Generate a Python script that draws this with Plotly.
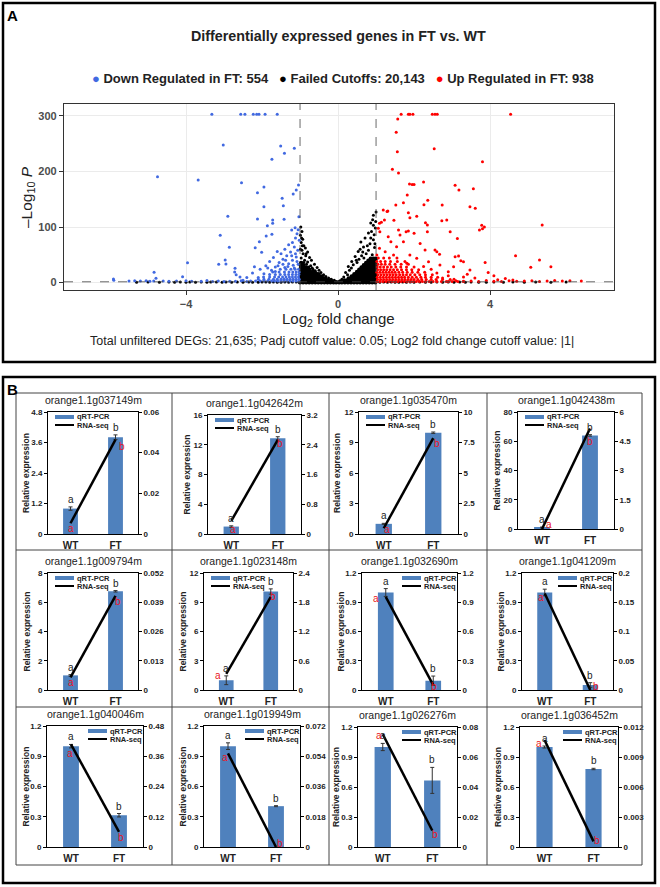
import plotly.graph_objects as go

W, H = 660, 887
FONT = "Arial, Liberation Sans, sans-serif"

# ======================= Panel A : volcano data =======================
# (log2 fold change, -log10 P) pairs
down_pts = [
    (-4.75, 190.6), (-3.68, 184.7), (-3.96, 35.7), (-4.84, 18.4), (-4.09, 10.5), (-5.91, 6.3), (-4.79, 7.5),
    (-3.32, 303), (-2.56, 303), (-2.45, 303), (-2.23, 303), (-2.14, 303), (-2.08, 303), (-1.92, 303), (-1.60, 303),
    (-3.02, 247.7), (-1.51, 246), (-1.15, 241.7), (-1.41, 232.7), (-1.74, 222), (-2.54, 179.9), (-1.95, 172),
    (-2.12, 161.8), (-1.04, 175.7), (-1.10, 166.7), (-1.18, 159.5), (-1.47, 151.7), (-1.44, 138.4), (-1.95, 136.6),
    (-2.90, 119.2), (-2.12, 114.4), (-1.72, 112.6), (-1.72, 106.6), (-1.86, 102.3), (-1.42, 113.9), (-1.13, 98.7),
    (-1.03, 118.6), (-1.22, 94.6), (-3.10, 85.0), (-1.74, 86.8), (-1.89, 83.8), (-2.86, 63.4), (-2.07, 73.5),
    (-2.18, 62.7), (-2.01, 54.4), (-2.97, 40.5), (-3.14, 32.8), (-2.95, 33.3), (-2.71, 25.6), (-2.72, 19.0),
    (-2.68, 14.0), (-2.58, 10.0), (-2.20, 28.5),
    (-1.05, 95), (-1.08, 88), (-1.12, 80), (-1.02, 76), (-1.20, 72), (-1.30, 68), (-1.15, 64), (-1.40, 60),
    (-1.06, 58), (-1.25, 55), (-1.50, 52), (-1.60, 56), (-1.35, 48), (-1.10, 46), (-1.70, 45), (-1.45, 42),
    (-1.20, 40), (-1.80, 38), (-1.55, 36), (-1.30, 34), (-1.05, 33), (-1.90, 30), (-1.65, 28), (-1.40, 27),
    (-1.15, 26), (-2.05, 24), (-1.75, 22), (-1.85, 26), (-2.25, 17), (-2.40, 9), (-2.50, 4), (-1.58, 30),
    (-1.22, 48), (-1.38, 40), (-1.12, 52), (-1.08, 38), (-1.45, 33), (-1.65, 20), (-1.95, 16), (-2.10, 9),
    (-1.32, 29), (-1.18, 31),
    (-5.90, 4.0), (-5.50, 2.5), (-5.35, 3.0), (-5.20, 2.8), (-5.05, 3.2), (-4.95, 2.4), (-4.85, 2.7),
    (-4.60, 2.5), (-4.45, 2.2), (-4.25, 2.6), (-4.00, 3.0), (-3.85, 2.4), (-3.60, 2.2), (-3.45, 3.5),
    (-3.30, 2.0), (-3.15, 2.6), (-3.00, 1.8), (-2.85, 2.4), (-2.70, 2.1), (-2.55, 3.0), (-2.40, 1.9),
]
# dense part of the blue cloud: (-log10 P level, [log2 FC values])
down_rows = [
    (2.5, [-1.03, -1.11, -1.19, -1.27, -1.35, -1.43, -1.51, -1.59, -1.67, -1.75, -1.85, -1.95, -2.05, -2.17, -2.30]),
    (6.0, [-1.02, -1.10, -1.18, -1.26, -1.34, -1.42, -1.50, -1.60, -1.70, -1.82, -1.95, -2.10]),
    (10.0, [-1.04, -1.12, -1.20, -1.28, -1.37, -1.46, -1.56, -1.67, -1.80, -1.96]),
    (14.5, [-1.03, -1.11, -1.20, -1.30, -1.40, -1.52, -1.65, -1.80]),
    (19.0, [-1.02, -1.10, -1.19, -1.29, -1.41, -1.55, -1.72]),
    (24.0, [-1.04, -1.13, -1.24, -1.37, -1.52]),
]

ns_pts = [
    (-0.98, 100), (-0.95, 92), (-0.99, 85), (-0.93, 78), (-0.97, 72), (-0.90, 66), (-0.86, 62), (-0.95, 58),
    (-0.80, 55), (-0.92, 52), (-0.85, 48), (-0.75, 45), (-0.97, 44), (-0.70, 40), (-0.88, 40), (-0.80, 37),
    (-0.62, 33), (-0.72, 30), (-0.90, 36), (-0.55, 27), (-0.68, 26), (-0.50, 22), (-0.60, 21), (-0.45, 18),
    (-0.38, 14), (-0.32, 11), (-0.25, 8), (-0.18, 6), (-0.10, 4), (-0.83, 33), (-0.77, 28), (-0.66, 24),
    (-0.58, 18), (-0.94, 66), (-0.99, 60), (-0.96, 80), (-0.84, 52),
    (1.00, 127), (0.93, 121), (0.91, 113), (0.86, 107), (0.93, 103), (0.98, 98), (0.80, 89), (0.71, 80),
    (0.93, 77), (0.60, 73), (0.84, 70), (0.67, 64), (0.96, 63), (0.53, 56), (0.80, 58), (0.74, 52),
    (0.90, 50), (0.45, 47), (0.62, 48), (0.95, 86), (0.36, 38), (0.55, 42), (0.68, 44), (0.27, 29),
    (0.40, 32), (0.50, 36), (0.20, 18), (0.30, 22), (0.15, 10), (0.10, 6), (0.05, 3), (0.88, 92),
    (0.99, 110), (0.77, 66), (0.58, 60), (0.86, 80), (0.97, 70), (0.65, 55), (0.48, 40), (0.35, 26), (0.25, 14),
    (-5.30, 0.6), (-5.00, 0.9), (-4.70, 0.4), (-4.45, 1.0), (-4.30, 0.5), (-4.15, 0.8), (-4.00, 0.3),
    (-3.90, 1.1), (-3.75, 0.6), (-3.60, 0.9), (-3.45, 0.4), (-3.35, 1.0), (-3.20, 0.7), (-3.05, 0.3),
    (-2.95, 1.1), (-2.80, 0.5), (-2.65, 0.9), (-2.50, 0.4), (-2.35, 1.0), (-2.25, 0.6), (-2.10, 0.3),
    (-2.00, 1.1), (-1.90, 0.7), (-1.80, 0.4), (-1.70, 1.0), (-1.60, 0.6), (-1.50, 0.3), (-1.40, 0.9),
    (-1.30, 0.5), (-1.20, 1.1), (-1.10, 0.7),
    (1.10, 0.6), (1.20, 1.0), (1.30, 0.4), (1.40, 0.9), (1.50, 0.6), (1.60, 0.3), (1.70, 1.0), (1.80, 0.5),
    (1.90, 0.8), (2.00, 0.3), (2.15, 1.0), (2.30, 0.6), (2.45, 0.4), (2.60, 0.9), (2.75, 0.5), (2.90, 1.0),
    (3.05, 0.4), (3.20, 0.8), (3.35, 0.5), (3.50, 1.0), (3.70, 0.6), (3.90, 0.3), (4.10, 0.9), (4.35, 0.5),
    (4.60, 0.8), (4.90, 0.4), (5.20, 0.7), (5.60, 0.5), (6.00, 0.8),
]
# solid V-shaped core of the black cloud
ns_rows = [
    (0.6, [-1.0, -0.92, -0.84, -0.76, -0.68, -0.6, -0.52, -0.44, -0.36, -0.28, -0.2, -0.12, -0.05, 0.03, 0.1, 0.18,
           0.26, 0.34, 0.42, 0.5, 0.58, 0.66, 0.74, 0.82, 0.9, 0.98]),
    (3.5, [-0.99, -0.91, -0.83, -0.75, -0.67, -0.59, -0.51, -0.43, -0.35, -0.27, -0.19, 0.17, 0.25, 0.33, 0.41,
           0.49, 0.57, 0.65, 0.73, 0.81, 0.89, 0.97]),
    (7.0, [-0.98, -0.9, -0.82, -0.74, -0.66, -0.58, -0.5, -0.42, -0.34, 0.28, 0.36, 0.44, 0.52, 0.6, 0.68, 0.76,
           0.84, 0.92, 0.99]),
    (11.0, [-0.97, -0.89, -0.81, -0.73, -0.65, -0.57, -0.49, -0.43, 0.36, 0.44, 0.52, 0.6, 0.68, 0.76, 0.84, 0.92, 0.98]),
    (15.0, [-0.98, -0.9, -0.82, -0.74, -0.66, -0.58, -0.52, 0.43, 0.5, 0.58, 0.66, 0.74, 0.82, 0.9, 0.97]),
    (19.0, [-0.97, -0.89, -0.81, -0.73, -0.66, 0.5, 0.57, 0.65, 0.73, 0.81, 0.89, 0.96]),
    (23.0, [-0.98, -0.9, -0.82, -0.76, 0.56, 0.63, 0.71, 0.79, 0.87, 0.95]),
    (27.0, [-0.97, -0.9, -0.84, 0.62, 0.7, 0.78, 0.86, 0.94, 0.99]),
    (31.0, [-0.98, -0.92, 0.68, 0.76, 0.84, 0.92, 0.98]),
    (35.0, [-0.97, 0.74, 0.82, 0.9, 0.97]),
    (39.0, [0.8, 0.88, 0.95]),
    (43.0, [0.86, 0.93, 0.99]),
]

up_pts = [
    (1.66, 303), (1.85, 303), (1.89, 303), (1.97, 303), (2.48, 303), (2.55, 303), (2.61, 303), (4.54, 303),
    (1.57, 294.6), (1.53, 270.6), (1.56, 235.7), (2.53, 241), (3.80, 217.7), (1.43, 204), (1.59, 197.3),
    (1.88, 177.5), (1.95, 176.5), (2.00, 176.5), (2.25, 181), (3.08, 175), (3.18, 166.7), (3.56, 169),
    (1.82, 157.7), (2.36, 148), (2.26, 140), (2.74, 139.6), (1.72, 143.8), (1.52, 139.6), (1.19, 130.6),
    (1.29, 128), (1.31, 129), (3.47, 136.6), (3.61, 133.7), (1.85, 125.8), (5.37, 103.6), (3.80, 97),
    (3.85, 100), (3.78, 103),
    (1.89, 116.8), (2.07, 119.2), (1.47, 112), (1.09, 106.6), (1.14, 108.4), (1.22, 112.6), (2.30, 107.8),
    (2.35, 103.6), (2.73, 111.4), (2.86, 112.6), (2.95, 91.6), (3.14, 79.5), (3.72, 94.6), (1.79, 91.6),
    (1.85, 92.8), (2.00, 88.6), (2.35, 91.6), (1.59, 94.6), (1.63, 85.6), (1.39, 73.5), (1.32, 82.5),
    (1.10, 91.6), (1.06, 97.6), (1.72, 73.5), (1.54, 64.5), (2.16, 70.5), (2.60, 55.5), (2.55, 58.5),
    (2.67, 50.7), (2.29, 58.5), (3.08, 46.5), (3.17, 47.7), (3.23, 39.3), (3.04, 28.5), (3.30, 37.5),
    (3.47, 22.5), (2.90, 19.5), (2.68, 31.5), (2.38, 37.5), (2.07, 43.5), (1.89, 49.5), (1.24, 55.5),
    (1.09, 61.5), (1.46, 49.5), (1.81, 34.5), (1.02, 49.5),
    (4.67, 48.3), (5.30, 40.5), (5.60, 28.5), (5.07, 27.4), (3.87, 36), (4.10, 12), (3.60, 8), (3.30, 10),
    (2.90, 12), (2.75, 8), (3.05, 6), (4.40, 7), (3.95, 18), (3.40, 15), (2.45, 24), (2.25, 29), (2.6, 17),
    (2.9, 2.0), (3.1, 3.0), (3.3, 2.2), (3.5, 2.8), (3.7, 2.0), (3.9, 3.5), (4.1, 2.4), (4.3, 2.0), (4.5, 3.0),
    (4.7, 2.2), (4.9, 2.6), (5.1, 3.3), (5.3, 2.0), (5.5, 2.8), (5.7, 3.8), (5.9, 2.5), (6.1, 3.0), (6.4, 2.5),
    (4.2, 5.0), (4.6, 4.5),
]
up_rows = [
    (2.0, [1.02, 1.1, 1.18, 1.26, 1.34, 1.42, 1.5, 1.58, 1.66, 1.74, 1.82, 1.9, 1.98, 2.06, 2.14, 2.22, 2.3, 2.4,
           2.5, 2.6, 2.72, 2.85, 3.0, 3.15, 3.3]),
    (5.5, [1.04, 1.12, 1.2, 1.28, 1.36, 1.44, 1.52, 1.6, 1.68, 1.76, 1.84, 1.92, 2.0, 2.1, 2.2, 2.32, 2.45, 2.58,
           2.75, 2.95]),
    (9.5, [1.03, 1.11, 1.19, 1.27, 1.35, 1.43, 1.51, 1.59, 1.67, 1.75, 1.85, 1.95, 2.06, 2.18, 2.3, 2.45, 2.62]),
    (14.0, [1.05, 1.13, 1.21, 1.29, 1.37, 1.45, 1.53, 1.62, 1.71, 1.8, 1.9, 2.02, 2.15, 2.3, 2.48]),
    (18.5, [1.02, 1.1, 1.18, 1.26, 1.34, 1.42, 1.5, 1.6, 1.7, 1.82, 1.95, 2.1, 2.28]),
    (23.0, [1.04, 1.12, 1.2, 1.28, 1.37, 1.46, 1.56, 1.67, 1.8, 1.94, 2.12]),
    (28.0, [1.03, 1.11, 1.2, 1.3, 1.4, 1.52, 1.65, 1.8, 2.0]),
    (33.0, [1.05, 1.14, 1.24, 1.36, 1.5, 1.66, 1.85]),
    (38.0, [1.02, 1.12, 1.24, 1.38, 1.56, 1.76]),
    (44.0, [1.06, 1.2, 1.35, 1.55]),
]

legend_labels = ["Down Regulated in FT: 554", "Failed Cutoffs: 20,143", "Up Regulated in FT: 938"]
title_a = "Differentially expressed genes in FT vs. WT"
caption_a = "Total unfiltered DEGs: 21,635; Padj cutoff value: 0.05; Log2 fold change cutoff value: |1|"
volcano_xticks = [-4, 0, 4]
volcano_yticks = [0, 100, 200, 300]
fc_cutoff = 1.0
p_cutoff = 1.3

# ======================= Panel B : qRT-PCR vs RNA-seq =======================
genes = ["orange1.1g037149m", "orange1.1g042642m", "orange1.1g035470m", "orange1.1g042438m",
         "orange1.1g009794m", "orange1.1g023148m", "orange1.1g032690m", "orange1.1g041209m",
         "orange1.1g040046m", "orange1.1g019949m", "orange1.1g026276m", "orange1.1g036452m"]
samples = ["WT", "FT"]
qpcr_wt = [1.0, 1.0, 1.0, 1.0, 1.0, 1.0, 1.0, 1.0, 1.0, 1.0, 1.0, 1.0]
qpcr_ft = [3.81, 12.86, 9.96, 64.0, 6.75, 10.1, 0.095, 0.051, 0.315, 0.405, 0.666, 0.78]
qpcr_wt_err = [0.066, 0.1, 0.05, 0.3, 0.05, 0.45, 0.04, 0.034, 0.017, 0.033, 0.036, 0.01]
qpcr_ft_err = [0.09, 0.22, 0.07, 0.5, 0.05, 0.27, 0.048, 0.024, 0.017, 0.005, 0.13, 0.007]
rnaseq_wt = [0.0053, 0.35, 0.47, 0.0, 0.0056, 0.33, 0.955, 0.165, 0.407, 0.0557, 0.0752, 0.0107]
rnaseq_ft = [0.0464, 2.53, 7.86, 5.15, 0.0418, 1.91, 0.05, 0.0, 0.06, 0.0, 0.011, 0.00056]
letters_qpcr = [("a", "b")] * 12
letters_rnaseq = [("a", "b")] * 12
left_max = [4.8, 16, 12, 80, 8, 12, 1.2, 1.2, 1.2, 1.2, 1.2, 1.2]
left_step = [1.2, 4, 3, 20, 2, 3, 0.3, 0.3, 0.3, 0.3, 0.3, 0.3]
right_max = [0.06, 3.2, 10, 6, 0.052, 2.4, 1.2, 0.2, 0.48, 0.072, 0.08, 0.012]
right_step = [0.02, 0.8, 2.5, 1.5, 0.013, 0.6, 0.3, 0.05, 0.12, 0.018, 0.02, 0.003]

# ======================= layout / style (pixels of the 660x887 page) =======================
def X(px):
    return px / W


def Y(py):
    return 1 - py / H


cell_boxes = [(48, 138, 412, 534), (208, 301, 415, 534), (359, 458, 412, 534), (518, 614, 412, 529),
              (48, 138, 573, 690), (204, 293, 573, 690), (362, 457, 573, 690), (522, 613, 573, 690),
              (47, 143, 726, 847), (204, 300, 726, 847), (358, 457, 727, 847), (520, 618, 727, 847)]
legend_side = ["l", "l", "l", "l", "l", "l", "r", "r", "r", "r", "r", "r"]
red_shift_wt = [(0, -5), (2, -9), (3, -1), (7, 5), (0, -5), (-8, -2), (-10, -2), (-4, -4), (-1, -9), (-3, -4), (-4, -1), (-6, -3)]
red_shift_ft = [(6, -7), (2, -4), (4, -5), (0, -13), (2, -6), (2, 0), (1, -1), (6, 4), (2, -6), (4, 4), (3, -4), (3, 1)]

BLUE_PT = "#4169E1"
RED_PT = "#FF0000"
BAR = "#4F81BD"
RED_TXT = "#E8141C"


def unzip(pts):
    return [p[0] for p in pts], [p[1] for p in pts]


def rows_xy(rows):
    xs, ys = [], []
    for yv, xr in rows:
        xs += list(xr)
        ys += [yv] * len(xr)
    return xs, ys


def ptext(text, px, py, size, color="#222", **kw):
    d = dict(text=text, x=X(px), y=Y(py), xref="paper", yref="paper", showarrow=False,
             xanchor="center", yanchor="middle", font=dict(size=size, color=color, family=FONT))
    d.update(kw)
    return d


fig = go.Figure()

# ---- volcano traces ----
nx, ny = unzip(ns_pts)
fig.add_trace(go.Scatter(x=nx, y=ny, mode="markers", marker=dict(size=3, color="black", line=dict(width=0)),
                         xaxis="x", yaxis="y", showlegend=False, hoverinfo="skip"))
cx, cy = rows_xy(ns_rows)
fig.add_trace(go.Scatter(x=cx, y=cy, mode="markers", marker=dict(size=4.5, color="black", line=dict(width=0)),
                         xaxis="x", yaxis="y", showlegend=False, hoverinfo="skip"))
dx1, dy1 = unzip(down_pts)
dx2, dy2 = rows_xy(down_rows)
fig.add_trace(go.Scatter(x=dx1 + dx2, y=dy1 + dy2, mode="markers",
                         marker=dict(size=3, color=BLUE_PT, line=dict(width=0)),
                         xaxis="x", yaxis="y", showlegend=False, hoverinfo="skip"))
ux1, uy1 = unzip(up_pts)
ux2, uy2 = rows_xy(up_rows)
fig.add_trace(go.Scatter(x=ux1 + ux2, y=uy1 + uy2, mode="markers",
                         marker=dict(size=3, color=RED_PT, line=dict(width=0)),
                         xaxis="x", yaxis="y", showlegend=False, hoverinfo="skip"))

layout = dict(
    width=W, height=H, margin=dict(l=0, r=0, t=0, b=0, pad=0), template="none",
    paper_bgcolor="white", plot_bgcolor="white", showlegend=False,
    font=dict(family=FONT, color="#222"),
    xaxis=dict(domain=[X(64), X(614)], range=[-7.21, 7.26], anchor="y", tickmode="array",
               tickvals=volcano_xticks, ticks="outside", ticklen=4, tickcolor="#333",
               tickfont=dict(size=11, color="#4d4d4d", family=FONT, weight="bold"),
               showgrid=True, gridcolor="#ebebeb", gridwidth=1, zeroline=False,
               showline=True, mirror=True, linecolor="#333", linewidth=1.3),
    yaxis=dict(domain=[Y(290), Y(104)], range=[-13.5, 321.6], anchor="x", tickmode="array",
               tickvals=volcano_yticks, ticks="outside", ticklen=4, tickcolor="#333",
               tickfont=dict(size=11, color="#4d4d4d", family=FONT, weight="bold"),
               showgrid=True, gridcolor="#ebebeb", gridwidth=1, zeroline=False,
               showline=True, mirror=True, linecolor="#333", linewidth=1.3),
)

shapes = []
annotations = []

# panel frames
shapes.append(dict(type="rect", xref="paper", yref="paper", x0=X(3), x1=X(655), y0=Y(362), y1=Y(3),
                   line=dict(color="black", width=2.5)))
shapes.append(dict(type="rect", xref="paper", yref="paper", x0=X(3), x1=X(655), y0=Y(883), y1=Y(377),
                   line=dict(color="black", width=2.5)))
# panel B grid
shapes.append(dict(type="rect", xref="paper", yref="paper", x0=X(16), x1=X(642), y0=Y(865), y1=Y(393),
                   line=dict(color="#444", width=1)))
for gx in (172, 329, 487):
    shapes.append(dict(type="line", xref="paper", yref="paper", x0=X(gx), x1=X(gx), y0=Y(865), y1=Y(393),
                       line=dict(color="#444", width=1)))
for gy in (550, 707):
    shapes.append(dict(type="line", xref="paper", yref="paper", x0=X(16), x1=X(642), y0=Y(gy), y1=Y(gy),
                       line=dict(color="#444", width=1)))

# volcano cutoff lines
for v in (-fc_cutoff, fc_cutoff):
    shapes.append(dict(type="line", xref="x", yref="y domain", x0=v, x1=v, y0=0, y1=1,
                       line=dict(color="#444", width=0.8, dash="dash")))
shapes.append(dict(type="line", xref="x domain", yref="y", x0=0, x1=1, y0=p_cutoff, y1=p_cutoff,
                   line=dict(color="#444", width=0.8, dash="dash")))

# panel A texts
annotations.append(ptext("<b>A</b>", 13, 16, 15, "black"))
annotations.append(ptext("<b>B</b>", 13, 389, 15, "black"))
annotations.append(ptext("<b>" + title_a + "</b>", 338, 36, 14.3))
leg_text = ("<span style='color:%s'>●</span> %s   <span style='color:black'>●</span> %s   "
            "<span style='color:%s'>●</span> %s") % (BLUE_PT, legend_labels[0], legend_labels[1], RED_PT,
                                                     legend_labels[2])
annotations.append(ptext("<b>" + leg_text + "</b>", 343, 79, 13))
annotations.append(ptext("–Log<sub>10</sub> <i>P</i>", 27, 197, 15.5, textangle=-90))
annotations.append(ptext("Log<sub>2</sub> fold change", 338, 319, 15))
annotations.append(ptext(caption_a, 332, 341, 12.5))

# ---- panel B cells ----
for k in range(12):
    l, r, t, b = cell_boxes[k]
    xi, yl, yr = k + 2, 2 * k + 2, 2 * k + 3
    layout["xaxis%d" % xi] = dict(domain=[X(l), X(r)], anchor="y%d" % yl, type="category",
                                  categoryorder="array", categoryarray=samples, range=[-0.5, 1.5],
                                  showline=True, mirror=True, linecolor="black", linewidth=1,
                                  showgrid=False, zeroline=False, ticks="", ticklabelstandoff=2,
                                  tickfont=dict(size=10, color="#222", family=FONT, weight="bold"))
    layout["yaxis%d" % yl] = dict(domain=[Y(b), Y(t)], anchor="x%d" % xi, range=[0, left_max[k]],
                                  tick0=0, dtick=left_step[k], showline=True, linecolor="black", linewidth=1,
                                  ticks="outside", ticklen=3, tickcolor="black", showgrid=False,
                                  zeroline=False,
                                  tickfont=dict(size=8, color="#222", family=FONT, weight="bold"))
    layout["yaxis%d" % yr] = dict(overlaying="y%d" % yl, side="right", anchor="x%d" % xi,
                                  range=[0, right_max[k]], tick0=0, dtick=right_step[k],
                                  showline=True, linecolor="black", linewidth=1,
                                  ticks="outside", ticklen=3, tickcolor="black", showgrid=False,
                                  zeroline=False,
                                  tickfont=dict(size=8, color="#222", family=FONT, weight="bold"))
    fig.add_trace(go.Bar(x=samples, y=[qpcr_wt[k], qpcr_ft[k]], width=0.33,
                         marker=dict(color=BAR, line=dict(width=0)),
                         error_y=dict(type="data", array=[qpcr_wt_err[k], qpcr_ft_err[k]], color="#333",
                                      thickness=1, width=2),
                         xaxis="x%d" % xi, yaxis="y%d" % yl, showlegend=False, hoverinfo="skip"))
    fig.add_trace(go.Scatter(x=samples, y=[rnaseq_wt[k], rnaseq_ft[k]], mode="lines",
                             line=dict(color="black", width=2.5), cliponaxis=False,
                             xaxis="x%d" % xi, yaxis="y%d" % yr, showlegend=False, hoverinfo="skip"))
    # title and y label
    annotations.append(ptext(genes[k], (l + r) / 2, t - 12, 10.5))
    annotations.append(ptext("<b>Relative expression</b>", l - 22, (t + b) / 2, 8.5, textangle=-90))
    # significance letters
    qv = [qpcr_wt[k] + qpcr_wt_err[k], qpcr_ft[k] + qpcr_ft_err[k]]
    rv = [rnaseq_wt[k], rnaseq_ft[k]]
    shifts = [red_shift_wt[k], red_shift_ft[k]]
    for i in range(2):
        annotations.append(dict(text=letters_qpcr[k][i], x=i, y=qv[i], xref="x%d" % xi, yref="y%d" % yl,
                                showarrow=False, xanchor="center", yanchor="bottom", yshift=0,
                                font=dict(size=10, color="#222", family=FONT)))
        annotations.append(dict(text=letters_rnaseq[k][i], x=i, y=rv[i], xref="x%d" % xi, yref="y%d" % yr,
                                showarrow=False, xanchor="center", yanchor="middle",
                                xshift=shifts[i][0], yshift=shifts[i][1],
                                font=dict(size=10, color=RED_TXT, family=FONT)))
    # in-plot legend
    if legend_side[k] == "l":
        sx0 = l + 7
    else:
        sx0 = r - 55
    sx1 = sx0 + 19
    r1, r2 = t + 5, t + 13
    shapes.append(dict(type="rect", xref="paper", yref="paper", x0=X(sx0), x1=X(sx1), y0=Y(r1 + 2), y1=Y(r1 - 2),
                       fillcolor=BAR, line=dict(width=0)))
    shapes.append(dict(type="line", xref="paper", yref="paper", x0=X(sx0), x1=X(sx1), y0=Y(r2), y1=Y(r2),
                       line=dict(color="black", width=2)))
    for txt, ry in (("qRT-PCR", r1), ("RNA-seq", r2)):
        annotations.append(ptext("<b>%s</b>" % txt, sx1 + 1, ry, 7.5, xanchor="left"))

layout["shapes"] = shapes
layout["annotations"] = annotations
fig.update_layout(**layout)
fig.write_html("out.html", config={"displayModeBar": False},
               post_script="document.body.style.margin='0px';document.body.style.overflow='hidden';")
